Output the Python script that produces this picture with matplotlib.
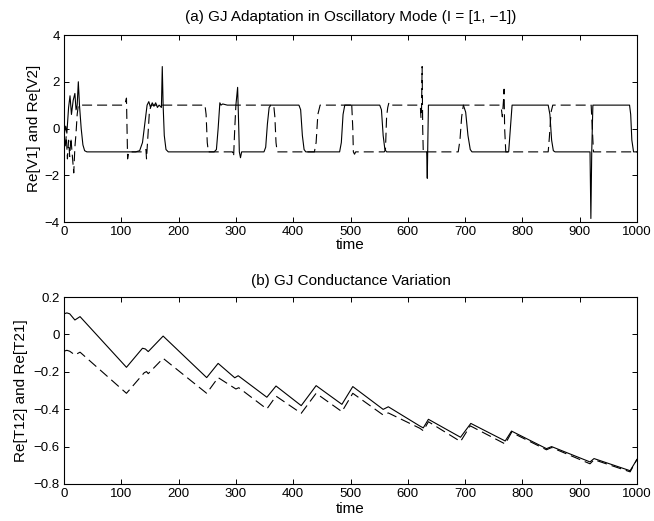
import matplotlib
matplotlib.use("Agg")
import matplotlib.pyplot as plt
from matplotlib.ticker import FuncFormatter

plt.rcParams['font.family'] = ['Liberation Sans', 'DejaVu Sans']
plt.rcParams['axes.unicode_minus'] = True

# ---------------- data ----------------
# (a) Re[V1] (solid)
v1_t = [0, 3, 5, 8, 10.5, 13, 16, 19, 21, 23, 25, 27, 30, 33, 36, 40,
        125, 132, 137, 141, 145, 148, 151, 154, 157, 160, 163, 166, 170, 171.5, 173, 175, 178, 182,
        262, 266, 269, 272, 274, 277, 285, 300, 303, 305, 306, 308, 310,
        349, 352, 355, 358, 361,
        410, 413, 416, 419, 422,
        481, 484, 487, 490,
        551, 554, 557, 560, 563,
        633, 634, 635, 636,
        697, 701, 705, 709, 712,
        776, 779, 782,
        845, 848, 851, 854, 857,
        918, 919.5, 921, 923,
        987, 989, 991, 994, 1000]
v1_v = [-0.3, 0.1, -0.2, 0.9, 1.4, 0.6, 1.2, 1.5, 0.8, 1.0, 2.0, 1.0, 0.0, -0.7, -0.95, -1.0,
        -1.0, -0.95, -0.6, 0.2, 1.0, 1.15, 0.9, 1.1, 0.95, 1.1, 0.9, 1.0, 0.9, 2.65, 1.0, -0.3, -0.9, -1.0,
        -1.0, -0.9, 0.0, 1.1, 1.0, 1.05, 1.0, 1.0, 1.76, 0.0, -1.0, -1.25, -1.0,
        -1.0, -0.8, 0.2, 0.9, 1.0,
        1.0, 0.8, -0.3, -0.9, -1.0,
        -1.0, -0.6, 0.6, 1.0,
        1.0, 0.8, -0.3, -0.9, -1.0,
        -1.0, -2.13, -0.5, 1.0,
        1.0, 0.7, -0.3, -0.9, -1.0,
        -1.0, 0.0, 1.0,
        1.0, 0.6, -0.5, -0.95, -1.0,
        -1.0, -3.85, -1.0, 1.0,
        1.0, 0.6, -0.5, -1.0, -1.0]

# (a) Re[V2] (dashed)
v2_t = [0, 2, 4, 6, 8, 10, 12, 14, 17, 19, 21, 23, 25,
        104, 107, 109, 110, 111, 113,
        140, 143, 144, 146, 149, 152,
        246, 248, 250, 252,
        294, 296, 298, 300,
        366, 368, 370, 372,
        437, 440, 443, 447,
        501, 502, 504, 505, 507, 509,
        559, 561, 563, 565, 567, 569,
        620, 622, 623, 624, 625, 626, 627,
        688, 691, 694, 697,
        760, 763, 765, 767, 768, 769, 771,
        845, 847, 850, 853,
        920, 922, 924, 1000]
v2_v = [-0.2, -0.8, -0.3, -1.3, -0.5, -1.2, -0.4, -1.0, -1.9, -0.8, -0.2, 0.6, 1.0,
        1.0, 1.1, 1.3, 0.0, -1.3, -1.0,
        -1.0, -0.9, -1.3, -0.5, 0.7, 1.0,
        1.0, 0.6, -0.6, -1.0,
        -1.0, -1.2, 0.0, 1.0,
        1.0, 0.5, -0.6, -1.0,
        -1.0, -0.6, 0.6, 1.0,
        1.0, 1.1, 0.0, -1.0, -1.1, -1.0,
        -1.0, -0.9, 0.5, 0.9, 1.1, 1.0,
        1.0, 0.9, 0.45, 0.8, 2.65, 0.0, -1.0,
        -1.0, -0.5, 0.5, 1.0,
        1.0, 0.9, 0.5, 1.2, 1.68, 0.0, -1.0,
        -1.0, -0.4, 0.7, 1.0,
        1.0, 0.0, -1.0, -1.0]

# (b) Re[T12] (solid)
t12_t = [0, 5, 10, 19, 28, 109, 137, 142, 147, 173, 249, 269, 298, 304, 354, 370, 414, 440,
         485, 504, 557, 566, 621, 627, 636, 692, 710, 770, 781, 842, 851, 918, 925, 988, 1000]
t12_v = [0.11, 0.115, 0.11, 0.077, 0.095, -0.176, -0.074, -0.078, -0.092, -0.009, -0.231, -0.155,
         -0.232, -0.221, -0.336, -0.276, -0.381, -0.274, -0.374, -0.279, -0.401, -0.387, -0.490,
         -0.500, -0.454, -0.550, -0.476, -0.570, -0.517, -0.611, -0.600, -0.682, -0.664, -0.729, -0.668]

# (b) Re[T21] (dashed)
t21_t = [0, 5, 10, 19, 28, 109, 140, 144, 147, 173, 249, 269, 300, 305, 354, 370, 414, 440,
         485, 504, 557, 566, 621, 627, 636, 692, 709, 770, 781, 842, 851, 918, 925, 988, 1000]
t21_v = [-0.09, -0.085, -0.09, -0.11, -0.095, -0.315, -0.205, -0.199, -0.21, -0.128, -0.315, -0.231,
         -0.292, -0.285, -0.399, -0.330, -0.422, -0.315, -0.413, -0.315, -0.431, -0.420, -0.502,
         -0.515, -0.467, -0.573, -0.489, -0.586, -0.524, -0.617, -0.605, -0.692, -0.670, -0.735, -0.668]

xticks = [0, 100, 200, 300, 400, 500, 600, 700, 800, 900, 1000]
yticks_a = [-4, -2, 0, 2, 4]
yticks_b = [-0.8, -0.6, -0.4, -0.2, 0, 0.2]

title_a = "(a) GJ Adaptation in Oscillatory Mode (I = [1, \u22121])"
title_b = "(b) GJ Conductance Variation"
ylabel_a = "Re[V1] and Re[V2]"
ylabel_b = "Re[T12] and Re[T21]"
xlabel = "time"

# ---------------- figure ----------------
W, H = 654, 521
fig = plt.figure(figsize=(W / 100, H / 100), dpi=100)

def fmt(v, pos):
    s = "%g" % round(v, 6)
    return s.replace("-", "\u2212")

def style(ax):
    ax.tick_params(direction='in', top=True, right=True, length=3.6, width=0.7,
                   labelsize=9.5, pad=3, colors='black')
    for sp in ax.spines.values():
        sp.set_linewidth(0.8)
    ax.xaxis.set_major_formatter(FuncFormatter(fmt))
    ax.yaxis.set_major_formatter(FuncFormatter(fmt))

left, right = 64 / W, 637 / W
ax1 = fig.add_axes([left, 1 - 222 / H, right - left, (222 - 35) / H])
ax2 = fig.add_axes([left, 1 - 484 / H, right - left, (484 - 297) / H])

lw = 0.8
ax1.plot(v1_t, v1_v, color='black', lw=lw)
ax1.plot(v2_t, v2_v, color='black', lw=lw, linestyle=(0, (9, 4.5)))
ax1.set_xlim(0, 1000)
ax1.set_ylim(-4, 4)
ax1.set_xticks(xticks)
ax1.set_yticks(yticks_a)
style(ax1)
ax1.set_title(title_a, fontsize=11, pad=10)
ax1.set_ylabel(ylabel_a, fontsize=11)
ax1.yaxis.set_label_coords(-0.040, 0.5)
ax1.set_xlabel(xlabel, fontsize=11, labelpad=0)

ax2.plot(t12_t, t12_v, color='black', lw=lw)
ax2.plot(t21_t, t21_v, color='black', lw=lw, linestyle=(0, (9, 4.5)))
ax2.set_xlim(0, 1000)
ax2.set_ylim(-0.8, 0.2)
ax2.set_xticks(xticks)
ax2.set_yticks(yticks_b)
style(ax2)
ax2.set_title(title_b, fontsize=11, pad=9)
ax2.set_ylabel(ylabel_b, fontsize=11)
ax2.yaxis.set_label_coords(-0.062, 0.5)
ax2.set_xlabel(xlabel, fontsize=11, labelpad=1)

fig.savefig("out.png", dpi=100)
